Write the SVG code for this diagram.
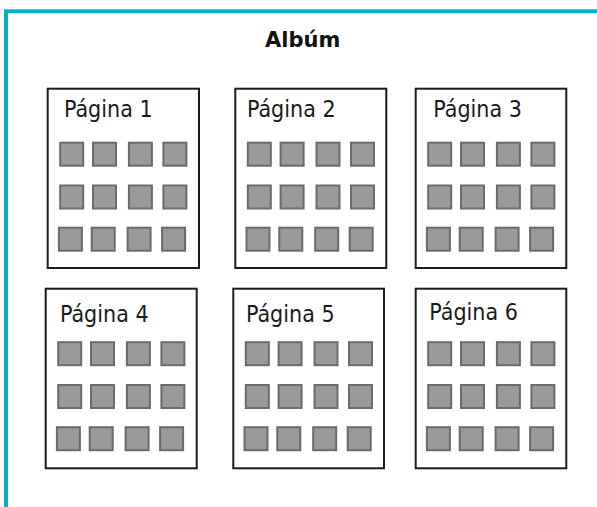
<svg xmlns="http://www.w3.org/2000/svg" xmlns:xlink="http://www.w3.org/1999/xlink" width="597" height="507" viewBox="0 0 597 507">
<style>
.frame{fill:none;stroke:#00B4CB;stroke-width:4}
.page{fill:#ffffff;stroke:#1c1c1c;stroke-width:2}
.sq{fill:#9a9a9a;stroke:#6b6b6b;stroke-width:2}
.lbl{font-family:"DejaVu Sans Condensed","DejaVu Sans",sans-serif;font-stretch:condensed;font-size:23px;fill:#1a1a1a}
.title{font-family:"DejaVu Sans",sans-serif;font-weight:bold;font-size:21px;fill:#111}
</style>
<defs>
<g id="grid">
<rect class="sq" x="13.5" y="55" width="23" height="23"/>
<rect class="sq" x="46.3" y="55" width="23" height="23"/>
<rect class="sq" x="82.2" y="55" width="23" height="23"/>
<rect class="sq" x="116.7" y="55" width="23" height="23"/>
<rect class="sq" x="13.5" y="97.8" width="23" height="23"/>
<rect class="sq" x="46.3" y="97.8" width="23" height="23"/>
<rect class="sq" x="82.2" y="97.8" width="23" height="23"/>
<rect class="sq" x="116.7" y="97.8" width="23" height="23"/>
<rect class="sq" x="12.2" y="140" width="23" height="23"/>
<rect class="sq" x="45" y="140" width="23" height="23"/>
<rect class="sq" x="80.9" y="140" width="23" height="23"/>
<rect class="sq" x="115.4" y="140" width="23" height="23"/>
</g>
</defs>
<rect width="597" height="507" fill="#ffffff"/>
<rect class="frame" x="6" y="11.3" width="620" height="530"/>
<g id="album">
<text class="title" x="265" y="47">Albúm</text>
</g>
<g id="pagina1">
<rect class="page" x="47.7" y="88.7" width="151.3" height="179.3"/>
<use xlink:href="#grid" x="46.7" y="87.7"/>
<text class="lbl" x="64" y="117">Página 1</text>
</g>
<g id="pagina2">
<rect class="page" x="235.3" y="88.7" width="151" height="179.3"/>
<use xlink:href="#grid" x="234.3" y="87.7"/>
<text class="lbl" x="247" y="116.7">Página 2</text>
</g>
<g id="pagina3">
<rect class="page" x="415.7" y="88.7" width="150.6" height="179.3"/>
<use xlink:href="#grid" x="414.7" y="87.7"/>
<text class="lbl" x="433.3" y="116.7">Página 3</text>
</g>
<g id="pagina4">
<rect class="page" x="45.7" y="288.7" width="151" height="179.6"/>
<use xlink:href="#grid" x="44.7" y="287.2"/>
<text class="lbl" x="60" y="321.7">Página 4</text>
</g>
<g id="pagina5">
<rect class="page" x="233.3" y="288.7" width="150.7" height="179.6"/>
<use xlink:href="#grid" x="232.3" y="287.2"/>
<text class="lbl" x="246" y="321.7">Página 5</text>
</g>
<g id="pagina6">
<rect class="page" x="415.7" y="288.7" width="150.6" height="179.6"/>
<use xlink:href="#grid" x="414.7" y="287.2"/>
<text class="lbl" x="429.3" y="320">Página 6</text>
</g>
<g id="connectors"/>
</svg>
